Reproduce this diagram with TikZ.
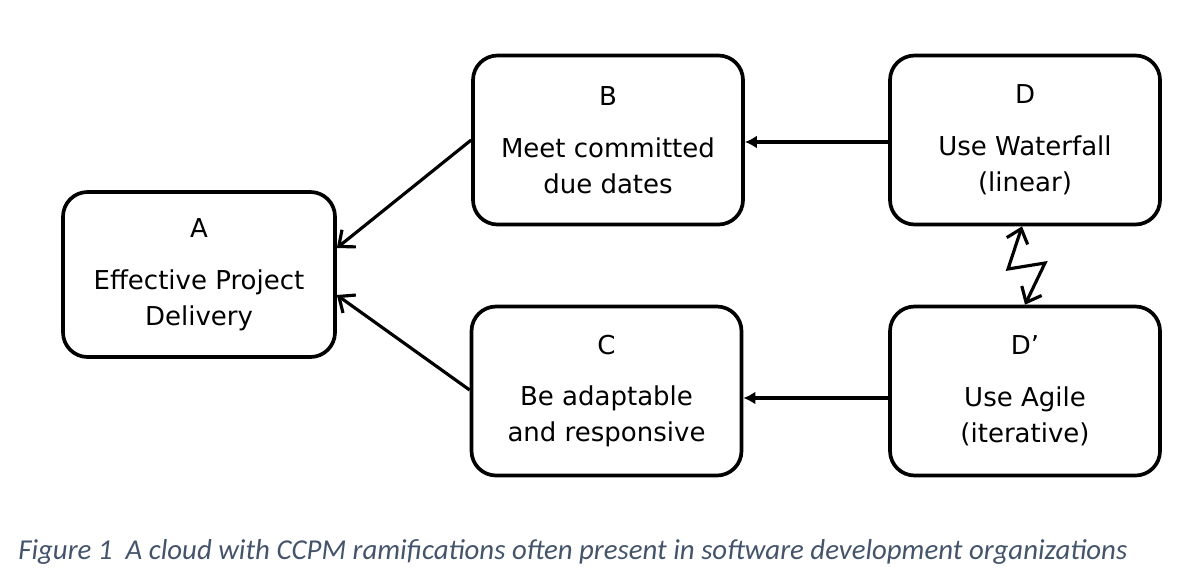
\documentclass[tikz,border=0pt]{standalone}
\usepackage{fontspec}
\setmainfont{DejaVu Sans}
\newfontfamily\capfont{Carlito}
\usepackage{xcolor}
\usetikzlibrary{calc,arrows.meta,positioning}
\definecolor{linec}{HTML}{000000}
\definecolor{capc}{HTML}{44546A}
\tikzset{
  blk/.style={draw=linec,line width=2.1pt,rounded corners=14pt,fill=white,align=center,
    minimum width=5.4cm,minimum height=3.38cm,inner sep=0pt,font=\fontsize{14.8}{20.5}\selectfont},
  ar/.style={-{Straight Barb[length=2.6mm,width=4.4mm]},line width=1.8pt,linec},
  arf/.style={-{Latex[length=2.4mm,width=2.6mm]},line width=1.8pt,linec},
  zz/.style={{Straight Barb[length=2.6mm,width=4.4mm]}-{Straight Barb[length=2.6mm,width=4.4mm]},line width=1.8pt,linec,line join=miter}
}
\begin{document}
\begin{tikzpicture}
\useasboundingbox (0,0) rectangle (24,-11.62);
% boxes of the cloud
\node[blk,minimum width=5.44cm,minimum height=3.3cm] (A) at (3.98,-5.49) {A\\[9pt]Effective Project\\Delivery};
\node[blk] (B) at (12.16,-2.80) {B\\[9pt]Meet committed\\due dates};
\node[blk] (C) at (12.13,-7.82) {C\\[9pt]Be adaptable\\and responsive};
\node[blk] (D) at (20.50,-2.80) {D\\[9pt]Use Waterfall\\(linear)};
\node[blk] (Dp) at (20.50,-7.82) {D\textquoteright\\[9pt]Use Agile\\(iterative)};
% arrows
\draw[ar] (B.west) -- ($(A.east)+(0,0.53)$);
\draw[ar] ($(C.west)+(0,0.02)$) -- ($(A.east)+(0,-0.41)$);
\draw[arf] ($(D.west)+(0,-0.04)$) -- ($(B.east)+(0,-0.04)$);
\draw[arf] ($(Dp.west)+(0,-0.14)$) -- ($(C.east)+(0,-0.14)$);
% conflict
\coordinate (z1) at (20.16,-5.38);
\coordinate (z2) at (20.90,-5.26);
\draw[zz] ($(D.south)+(-0.06,0)$) -- (z1) -- (z2) -- (Dp.north);
% caption
\node[anchor=base west,inner sep=0pt,text=capc,font=\capfont\itshape\fontsize{16.4}{19}\selectfont] (cap) at (0.36,-11.18)
  {Figure 1\ \ A cloud with CCPM ramifications often present in software development organizations};
\end{tikzpicture}
\end{document}
